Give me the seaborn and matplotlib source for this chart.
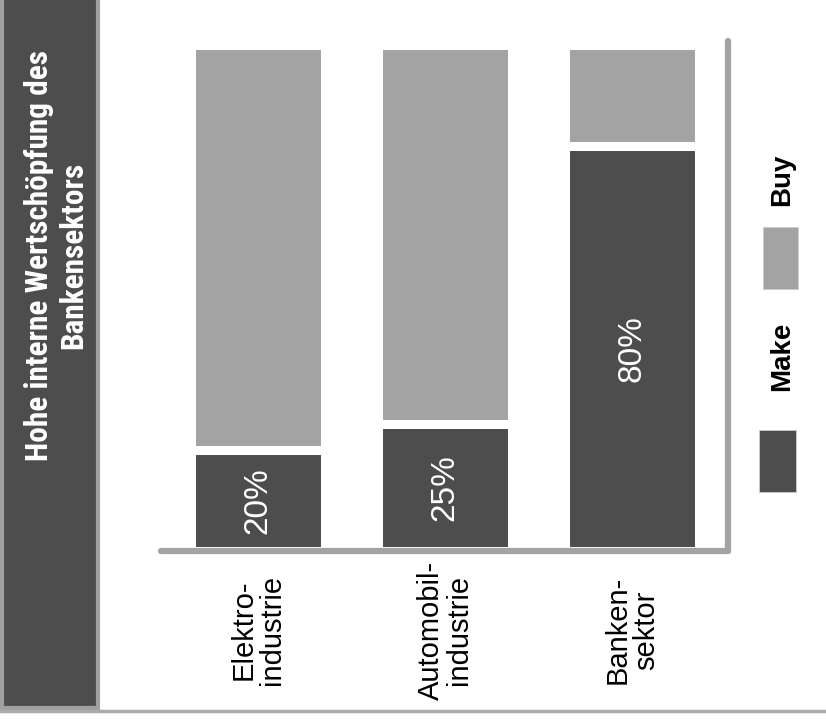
import numpy as np
import pandas as pd
import matplotlib
matplotlib.use("Agg")
import matplotlib.pyplot as plt
from matplotlib.patches import Rectangle
from matplotlib.lines import Line2D
from matplotlib.transforms import blended_transform_factory
import seaborn as sns

# data
categories = ["Elektro-\nindustrie", "Automobil-\nindustrie", "Banken-\nsektor"]
make = [20, 25, 80]
buy = [80, 75, 20]
pct_labels = ["20%", "25%", "80%"]
legend_labels = ["Make", "Buy"]
title = "Hohe interne Wertschöpfung des\nBankensektors"

DARK = "#4d4d4d"
LIGHT = "#a3a3a3"
GREY = "#a3a3a3"

sns.set_style("white")
plt.rcParams['font.family'] = ['Liberation Sans', 'DejaVu Sans']
title_font = ['Roboto Condensed', 'Encode Sans Condensed', 'Liberation Sans']

df = pd.DataFrame({"cat": categories, "make": make, "buy": buy})
df["total"] = df["make"] + df["buy"]

W, H = 826, 723
fig = plt.figure(figsize=(W / 100, H / 100), dpi=100)

# main axes, placed in pixel terms
ax = fig.add_axes([161 / W, 1 - 551 / H, (728 - 161) / W, (551 - 41) / H])
sns.barplot(data=df, x="cat", y="total", color=LIGHT, saturation=1, width=0.72,
            edgecolor="white", linewidth=6.5, ax=ax)
sns.barplot(data=df, x="cat", y="make", color=DARK, saturation=1, width=0.72,
            edgecolor="white", linewidth=6.5, ax=ax)
ax.set_xlim(-0.519, 2.513)
ax.set_ylim(0, 100.7)
ax.set_xlabel("")
ax.set_ylabel("")
ax.set_xticks([])
ax.set_yticks([])
for s in ["top", "left"]:
    ax.spines[s].set_visible(False)
for s in ["bottom", "right"]:
    ax.spines[s].set_color(GREY)
    ax.spines[s].set_linewidth(4.5)
    ax.spines[s].set_capstyle("round")

# percentage labels inside the Make segment
for i, (m, lab) in enumerate(zip(make, pct_labels)):
    ax.text(i, m / 2, lab, rotation=90, ha="center", va="center",
            color="white", fontsize=24)

# category labels below the axis
trans = blended_transform_factory(ax.transData, ax.transAxes)
for i, c in enumerate(categories):
    ax.text(i, -0.155, c, transform=trans, rotation=90, ha="center",
            va="center", multialignment="center", fontsize=21,
            linespacing=1.0, color="black")

# title panel on the left
fig.patches.append(Rectangle((2 / W, 1 - 708 / H), 96 / W, 730 / H,
                             transform=fig.transFigure, facecolor=DARK,
                             edgecolor="#a0a0a0", linewidth=3))
fig.text(56 / W, 1 - 255 / H, title, rotation=90, ha="center", va="center",
         color="white", fontsize=22.5, fontweight="bold",
         family=title_font, linespacing=1.2, multialignment="center")

# bottom rule
fig.lines.append(Line2D([0, 1], [1 - 711 / H] * 2, transform=fig.transFigure,
                        color="#ababab", linewidth=2.5))

# legend (drawn by hand, rotated like the rest)
fig.patches.append(Rectangle((759 / W, 1 - 492 / H), 37 / W, 62 / H,
                             transform=fig.transFigure, facecolor=DARK,
                             edgecolor="#cccccc", linewidth=0.6))
fig.patches.append(Rectangle((763 / W, 1 - 289 / H), 35 / W, 62 / H,
                             transform=fig.transFigure, facecolor=LIGHT,
                             edgecolor="#cccccc", linewidth=0.6))
fig.text(782 / W, 1 - 356 / H, legend_labels[0], rotation=90, ha="center",
         va="center", fontsize=20, fontweight="bold", color="black")
fig.text(782 / W, 1 - 180 / H, legend_labels[1], rotation=90, ha="center",
         va="center", fontsize=20, fontweight="bold", color="black")

fig.savefig("out.png", dpi=100)
